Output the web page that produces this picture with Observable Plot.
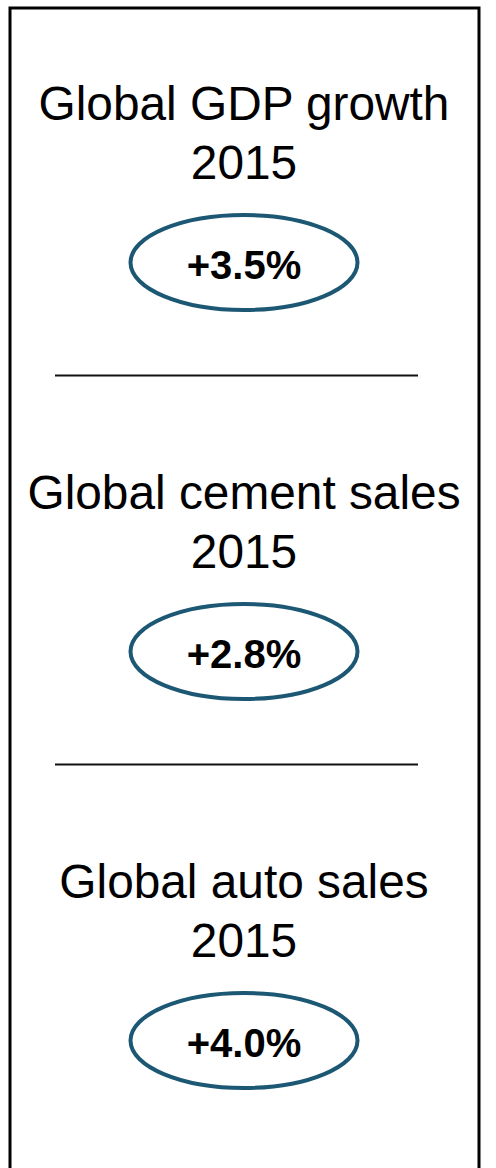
<!DOCTYPE html>
<html>
<head>
<meta charset="utf-8">
<script src="https://cdn.jsdelivr.net/npm/d3@7"></script>
<script src="https://cdn.jsdelivr.net/npm/@observablehq/plot@0.6"></script>
<style>
  html, body { margin: 0; padding: 0; background: #fff; overflow: hidden; }
  #chart svg { display: block; }
</style>
</head>
<body>
<div id="chart"></div>
<script>
// ---- data ----
const categories = ["Global GDP growth", "Global cement sales", "Global auto sales"];
const years = ["2015", "2015", "2015"];
const changes = [3.5, 2.8, 4.0]; // percent growth

const rows = categories.map((c, i) => ({ category: c, year: years[i], change: changes[i] }));
const fmt = v => d3.format("+.1%")(v / 100);

// ellipse symbol for the value badge
const ellipse = {
  draw(context) {
    const rx = 113.5, ry = 47.5, k = 0.5522847498;
    context.moveTo(rx, 0);
    context.bezierCurveTo(rx, k * ry, k * rx, ry, 0, ry);
    context.bezierCurveTo(-k * rx, ry, -rx, k * ry, -rx, 0);
    context.bezierCurveTo(-rx, -k * ry, -k * rx, -ry, 0, -ry);
    context.bezierCurveTo(k * rx, -ry, rx, -k * ry, rx, 0);
    context.closePath();
  }
};

const font = "'Liberation Sans', Arial, Helvetica, sans-serif";
const badge = "#1c5873";

const chart = Plot.plot({
  width: 496,
  height: 1168,
  marginLeft: 0,
  marginRight: 9,
  marginTop: 0,
  marginBottom: 0,
  style: { background: "white", fontFamily: font, overflow: "hidden" },
  y: { type: "point", domain: categories, range: [261.3, 1040.3], padding: 0, axis: null },
  marks: [
    Plot.frame({ stroke: "#000", strokeWidth: 3, insetLeft: 9.5, insetRight: 8.5, insetTop: 7.5, insetBottom: -30 }),
    Plot.ruleY(rows.slice(0, -1), { y: "category", dy: 113, stroke: "#111", strokeWidth: 1.8, insetLeft: 55, insetRight: 69 }),
    Plot.text(rows, {
      y: "category",
      text: d => d.category + "\n" + d.year,
      frameAnchor: "middle",
      lineAnchor: "bottom",
      lineHeight: 1.24,
      dy: -83.5,
      fontSize: 47.8,
      fill: "#000"
    }),
    Plot.dot(rows, { y: "category", frameAnchor: "middle", symbol: ellipse, r: 10, fill: "white", stroke: badge, strokeWidth: 4 }),
    Plot.text(rows, {
      y: "category",
      text: d => fmt(d.change),
      frameAnchor: "middle",
      lineAnchor: "bottom",
      dy: 16.5,
      fontSize: 40,
      fontWeight: "bold",
      fill: "#000"
    })
  ]
});
document.getElementById("chart").appendChild(chart);
</script>
</body>
</html>
